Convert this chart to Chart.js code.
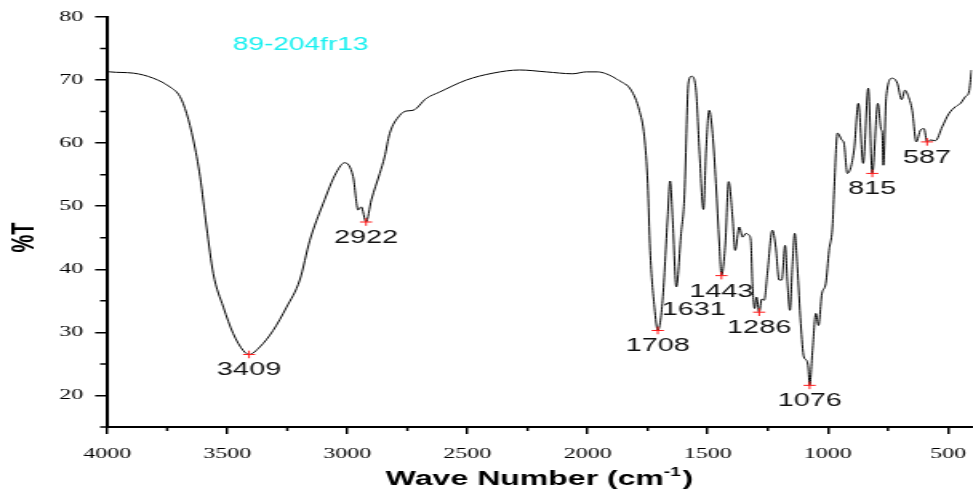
<!DOCTYPE html>
<html>
<head>
<meta charset="utf-8">
<script src="https://cdn.jsdelivr.net/npm/chart.js@4.4.1/dist/chart.umd.min.js"></script>
<style>
  html, body { margin: 0; padding: 0; background: #fff; overflow: hidden; }
  /* the plot is laid out narrow and widened horizontally, like the exported figure */
  #frame { width: 612.4px; height: 491px; transform: scaleX(1.60033); transform-origin: 0 0; }
</style>
</head>
<body>
<div id="frame"><canvas id="ir"></canvas></div>
<script>
// FT-IR spectrum of sample 89-204fr13
const sampleName = '89-204fr13';

// wave number (cm-1), high to low
const waveNumbers = [
  4000, 3988, 3891, 3808, 3738, 3697, 3669, 3641, 3613, 3586,
  3558, 3516, 3475, 3433, 3409, 3364, 3309, 3253, 3198, 3156,
  3101, 3045, 3011, 2976, 2955, 2942, 2922, 2900, 2865, 2845,
  2824, 2782, 2754, 2727, 2671, 2616, 2505, 2394, 2283, 2173,
  2062, 2006, 1960, 1923, 1868, 1819, 1785, 1764, 1750, 1740,
  1722, 1708, 1688, 1667, 1657, 1646, 1631, 1611, 1598, 1580,
  1567, 1549, 1535, 1518, 1507, 1494, 1480, 1466, 1452, 1443,
  1427, 1413, 1397, 1386, 1369, 1355, 1341, 1328, 1321, 1314,
  1305, 1297, 1286, 1275, 1265, 1252, 1231, 1217, 1203, 1192,
  1178, 1168, 1158, 1148, 1138, 1127, 1113, 1100, 1089, 1082,
  1076, 1064, 1050, 1039, 1025, 1009, 995, 981, 974, 960,
  942, 933, 919, 891, 873, 853, 832, 815, 792, 778,
  774, 769, 757, 732, 711, 693, 679, 665, 649, 632,
  614, 600, 587, 572, 552, 524, 496, 468, 448, 427,
  413, 402
];

// transmittance (%T) at each wave number
const transmittance = [
  71.4, 71.3, 71.1, 70.3, 68.9, 67.4, 64.7, 60.5, 54.7, 46.7,
  39.3, 34.0, 29.8, 27.1, 26.5, 27.7, 30.3, 34.0, 38.3, 44.6,
  50.4, 55.4, 56.9, 54.7, 49.4, 49.9, 47.5, 51.0, 55.2, 57.8,
  61.5, 64.4, 65.1, 65.2, 67.1, 68.1, 70.0, 71.1, 71.6, 71.3,
  71.0, 71.3, 71.3, 71.0, 69.9, 68.4, 65.2, 61.0, 53.6, 43.0,
  34.0, 30.3, 35.1, 48.3, 54.0, 47.8, 37.2, 45.7, 51.0, 69.7,
  70.6, 68.4, 58.9, 49.5, 58.9, 65.2, 61.5, 53.6, 44.0, 39.0,
  44.0, 53.9, 48.3, 43.0, 46.7, 45.1, 45.7, 45.4, 44.6, 37.7,
  33.8, 35.6, 33.2, 35.3, 35.1, 39.3, 46.2, 43.5, 38.3, 38.3,
  43.8, 37.7, 33.5, 40.4, 45.7, 40.4, 31.4, 26.1, 25.6, 24.5,
  21.6, 27.1, 33.0, 31.1, 36.1, 37.7, 43.0, 46.7, 52.5, 61.6,
  60.5, 60.0, 55.2, 58.9, 66.3, 56.8, 68.7, 55.2, 66.3, 62.1,
  61.8, 56.5, 67.4, 70.3, 69.5, 66.9, 68.4, 67.4, 65.2, 60.2,
  62.1, 62.3, 60.2, 60.5, 60.4, 62.6, 64.7, 65.8, 66.3, 67.4,
  68.1, 71.6
];

// labelled absorption bands
const bandWn = [3409, 2922, 1708, 1631, 1443, 1286, 1076, 815, 587];
const bandT  = [26.5, 47.5, 30.3, 37.2, 39.0, 33.2, 21.6, 55.2, 60.2];
// band whose label is written without a cross marker
const unmarkedBand = 1631;

// axis ticks
const xMajorTicks = [4000, 3500, 3000, 2500, 2000, 1500, 1000, 500];
const xMinorTicks = [3750, 3250, 2750, 2250, 1750, 1250, 750];
const yMajorTicks = [20, 30, 40, 50, 60, 70, 80];
const yMinorTicks = [15, 25, 35, 45, 55, 65, 75];

const xTitle = 'Wave Number (cm';
const xTitleSup = '-1';
const yTitle = '%T';

const SANS = '"Liberation Sans", Arial, sans-serif';
const SERIF = '"Liberation Serif", "Times New Roman", serif';

const spectrum = waveNumbers.map((w, i) => ({ x: w, y: transmittance[i] }));
const crosses = bandWn
  .map((w, i) => ({ x: w, y: bandT[i] }))
  .filter(p => p.x !== unmarkedBand);

// text drawn over the plot: sample name, band labels, axis titles, minor ticks
const overlay = {
  id: 'overlay',
  afterDraw(chart) {
    const { ctx, chartArea, scales } = chart;
    const xs = scales.x, ys = scales.y;
    ctx.save();

    // minor ticks
    ctx.strokeStyle = '#000';
    ctx.lineWidth = 1.5;
    ctx.beginPath();
    xMinorTicks.forEach(v => {
      const px = xs.getPixelForValue(v);
      ctx.moveTo(px, chartArea.bottom);
      ctx.lineTo(px, chartArea.bottom + 4);
    });
    yMinorTicks.forEach(v => {
      const py = ys.getPixelForValue(v);
      ctx.moveTo(chartArea.left, py);
      ctx.lineTo(chartArea.left - 4.4, py);
    });
    ctx.stroke();

    // sample name
    ctx.fillStyle = 'rgb(24,240,240)';
    ctx.font = '17.5px ' + SANS;
    ctx.textAlign = 'left';
    ctx.textBaseline = 'alphabetic';
    ctx.fillText(sampleName, xs.getPixelForValue(3476), ys.getPixelForValue(74.8));

    // band labels
    ctx.fillStyle = '#111';
    ctx.font = '18px ' + SANS;
    ctx.textAlign = 'center';
    bandWn.forEach((w, i) => {
      let px = xs.getPixelForValue(w);
      let py = ys.getPixelForValue(bandT[i]) + 21;
      if (w === unmarkedBand) { px += 11; py += 7; }
      ctx.fillText(String(w), px, py);
    });

    // x axis title with superscript
    ctx.fillStyle = '#000';
    const cx = (chartArea.left + chartArea.right) / 2;
    const base = 485;
    ctx.font = 'bold 20px ' + SANS;
    const w1 = ctx.measureText(xTitle).width;
    const w3 = ctx.measureText(')').width;
    ctx.font = 'bold 12px ' + SANS;
    const w2 = ctx.measureText(xTitleSup).width;
    let x0 = cx - (w1 + w2 + w3 + 1) / 2;
    ctx.textAlign = 'left';
    ctx.font = 'bold 20px ' + SANS;
    ctx.fillText(xTitle, x0, base);
    ctx.font = 'bold 12px ' + SANS;
    ctx.fillText(xTitleSup, x0 + w1, base - 9);
    ctx.font = 'bold 20px ' + SANS;
    ctx.fillText(')', x0 + w1 + w2 + 1, base);

    // y axis title
    ctx.translate(15.3, 237.5);
    ctx.rotate(-Math.PI / 2);
    ctx.textAlign = 'center';
    ctx.textBaseline = 'middle';
    ctx.font = 'bold 20px ' + SANS;
    ctx.fillText(yTitle, 0, 0);

    ctx.restore();
  }
};

new Chart(document.getElementById('ir'), {
  type: 'line',
  data: {
    datasets: [
      {
        data: spectrum,
        borderColor: '#000',
        borderWidth: 1,
        pointRadius: 0,
        fill: false,
        cubicInterpolationMode: 'monotone',
        order: 2
      },
      {
        type: 'scatter',
        data: crosses,
        pointStyle: 'cross',
        pointRadius: 3.8,
        borderColor: '#ff1a1a',
        borderWidth: 1,
        showLine: false,
        order: 1
      }
    ]
  },
  options: {
    responsive: true,
    maintainAspectRatio: false,
    animation: false,
    events: [],
    layout: { padding: { top: 17, right: 0, bottom: 0, left: 0 } },
    plugins: { legend: { display: false }, tooltip: { enabled: false } },
    scales: {
      x: {
        type: 'linear',
        reverse: true,
        min: 400,
        max: 4000,
        afterBuildTicks: s => { s.ticks = xMajorTicks.map(v => ({ value: v })); },
        afterFit: s => { s.height = 64; s.paddingLeft = 0; s.paddingRight = 0; },
        ticks: {
          autoSkip: false,
          maxRotation: 0,
          padding: 11,
          color: '#000',
          font: { family: SERIF, size: 15 },
          callback: v => String(v)
        },
        grid: { drawOnChartArea: false, drawTicks: true, tickLength: 7, color: '#000', lineWidth: 1.5 },
        border: { display: true, color: '#000', width: 2 }
      },
      y: {
        min: 15,
        max: 80,
        afterBuildTicks: s => { s.ticks = yMajorTicks.map(v => ({ value: v })); },
        afterFit: s => { s.width = 66.9; s.paddingTop = 0; s.paddingBottom = 0; },
        ticks: {
          autoSkip: false,
          padding: 7.5,
          color: '#000',
          font: { family: SERIF, size: 15 },
          callback: v => String(v)
        },
        grid: { drawOnChartArea: false, drawTicks: true, tickLength: 7.5, color: '#000', lineWidth: 1.5 },
        border: { display: true, color: '#000', width: 2 }
      }
    }
  },
  plugins: [overlay]
});
</script>
</body>
</html>
